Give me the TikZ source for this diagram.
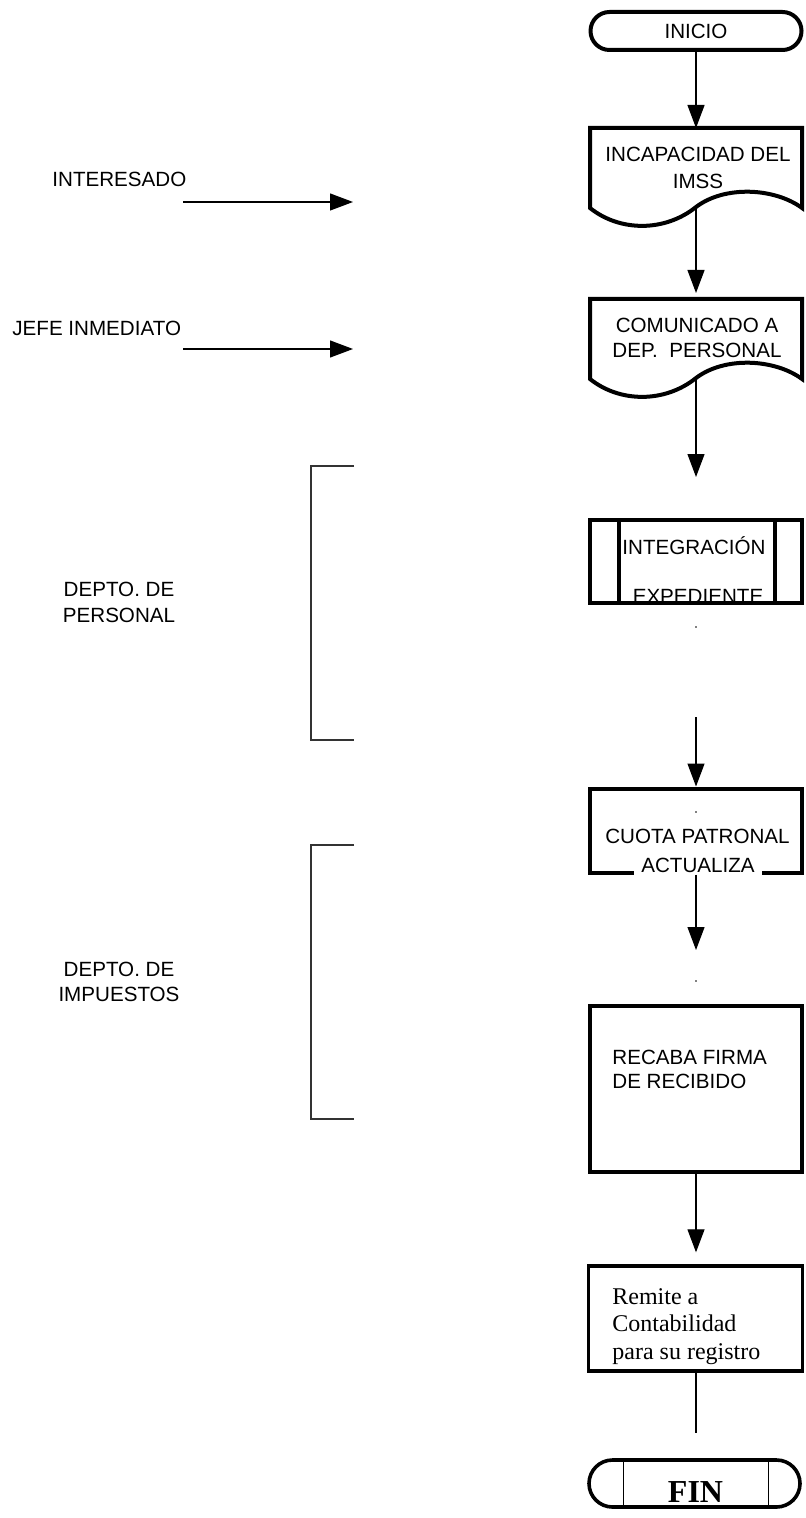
\documentclass[tikz,border=0pt]{standalone}
\usepackage{fontspec}
\setmainfont{Liberation Sans}
\newfontfamily\romana{Liberation Serif}
\usetikzlibrary{arrows.meta}
\tikzset{
  flecha/.style={line width=0.6pt, -{Triangle[length=11.5pt,width=8.5pt]}},
  linea/.style={line width=0.6pt},
  caja/.style={draw, line width=2pt, minimum width=106pt, inner sep=0pt},
  hueco/.style={draw=none, minimum width=106pt, inner sep=0pt, outer sep=0pt},
  texto/.style={inner sep=0pt, font=\fontsize{10.3}{13}\selectfont},
  llave/.style={draw=black!80, line width=0.6pt},
}
\begin{document}
\begin{tikzpicture}[x=0.5pt, y=-0.5pt]
  \useasboundingbox (0,0) rectangle (806,1518);

  % inicio
  \node[caja, rounded corners=9.5pt, minimum width=105.5pt, minimum height=19pt,
        font=\fontsize{10.3}{13}\selectfont] (inicio) at (696,31) {INICIO};

  % documento: incapacidad
  \node[hueco, minimum height=40pt] (incap) at (696,168) {};
  \node[texto, align=center, anchor=north, font=\fontsize{10.3}{13.5}\selectfont]
        (tincap) at (698,147) {INCAPACIDAD DEL\\IMSS};
  \draw[line width=2pt] (590,208) -- (590,128) -- (802,128) -- (802,208)
        .. controls (775,188) and (725,185) .. (696,207)
        .. controls (665,232) and (620,232) .. (590,208) -- cycle;

  % documento: comunicado
  \node[hueco, minimum height=40pt] (comun) at (696,339) {};
  \node[texto, align=center, anchor=north, font=\fontsize{10.3}{12.5}\selectfont]
        (tcomun) at (697,318) {COMUNICADO A\\DEP.\ \ PERSONAL};
  \draw[line width=2pt] (590,379) -- (590,299) -- (802,299) -- (802,379)
        .. controls (775,359) and (725,356) .. (696,378)
        .. controls (665,403) and (620,403) .. (590,379) -- cycle;

  % proceso predefinido
  \node[texto, anchor=base] (tinteg) at (694,554) {INTEGRACIÓN};
  \node[texto, anchor=base] (texped) at (698,603) {EXPEDIENTE};
  \node[caja, minimum height=41.5pt] (integ) at (696,561) {};
  \draw[line width=2pt] (618.5,519.5) -- (618.5,602.5);
  \draw[line width=2pt] (774.5,519.5) -- (774.5,602.5);

  % cuota
  \node[caja, minimum height=42pt] (cuota) at (696,830.5) {};
  \node[texto, anchor=base] (tcuota) at (697.5,843) {CUOTA PATRONAL};
  \node[texto, anchor=base, fill=white, inner xsep=3.5pt, inner ysep=1.8pt]
        (tactual) at (698,872) {ACTUALIZA};

  % recaba
  \node[caja, minimum height=83pt] (recaba) at (696,1088.5) {};
  \node[texto, align=left, anchor=north west, font=\fontsize{10.3}{12}\selectfont]
        (trecaba) at (612,1050) {RECABA FIRMA\\DE RECIBIDO};

  % remite
  \node[caja, line width=1.7pt, minimum width=107pt, minimum height=52.5pt] (remite) at (695.5,1318.5) {};
  \node[texto, align=left, anchor=north west, font=\romana\fontsize{12}{13.7}\selectfont]
        (tremite) at (612,1288) {Remite a\\Contabilidad\\para su registro};

  % fin
  \node[caja, line width=1.8pt, rounded corners=11.75pt, minimum width=105.5pt,
        minimum height=23.5pt] (fin) at (694.5,1483.5) {};
  \node[draw, line width=0.5pt, inner sep=0pt, minimum width=72.5pt, minimum height=23.5pt]
        (finrect) at (695.5,1483.5) {};
  \node[texto, anchor=base, font=\romana\bfseries\fontsize{16}{18}\selectfont]
        (tfin) at (695.5,1502) {FIN};

  % puntos sueltos
  \fill (696,627) circle (0.4pt);
  \fill (696,812) circle (0.4pt);
  \fill (696,981) circle (0.4pt);

  % flujo
  \coordinate (c1) at (696,477);
  \coordinate (c2) at (696,717);
  \coordinate (c3) at (696,950);
  \coordinate (c4) at (696,1433);
  \draw[flecha] (inicio.south) -- (incap.north);
  \draw[flecha, shorten >=3pt] (incap.south) -- (comun.north);
  \draw[flecha] (comun.south) -- (c1);
  \draw[flecha] (c2) -- (cuota.north);
  \draw[flecha] (cuota.south) -- (c3);
  \draw[flecha, shorten >=6pt] (recaba.south) -- (recaba.south |- remite.north);
  \draw[linea] (remite.south -| c4) -- (c4);

  % izquierda
  \node[texto, anchor=base west] (interesado) at (52,187) {INTERESADO};
  \node[texto, anchor=base west] (jefe) at (12,336) {JEFE INMEDIATO};
  \coordinate (e1) at (183,202);
  \coordinate (e2) at (353,202);
  \coordinate (e3) at (183,349);
  \coordinate (e4) at (353,349);
  \draw[flecha] (e1) -- (e2);
  \draw[flecha] (e3) -- (e4);

  \draw[llave] (354,466) -- (311,466) -- (311,740) -- (354,740);
  \node[texto, align=center, anchor=north, font=\fontsize{10.3}{13}\selectfont]
        (personal) at (119,582) {DEPTO. DE\\PERSONAL};

  \draw[llave] (354,845) -- (311,845) -- (311,1119) -- (354,1119);
  \node[texto, align=center, anchor=north, font=\fontsize{10.3}{12.5}\selectfont]
        (impuestos) at (119,962) {DEPTO. DE\\IMPUESTOS};
\end{tikzpicture}
\end{document}
